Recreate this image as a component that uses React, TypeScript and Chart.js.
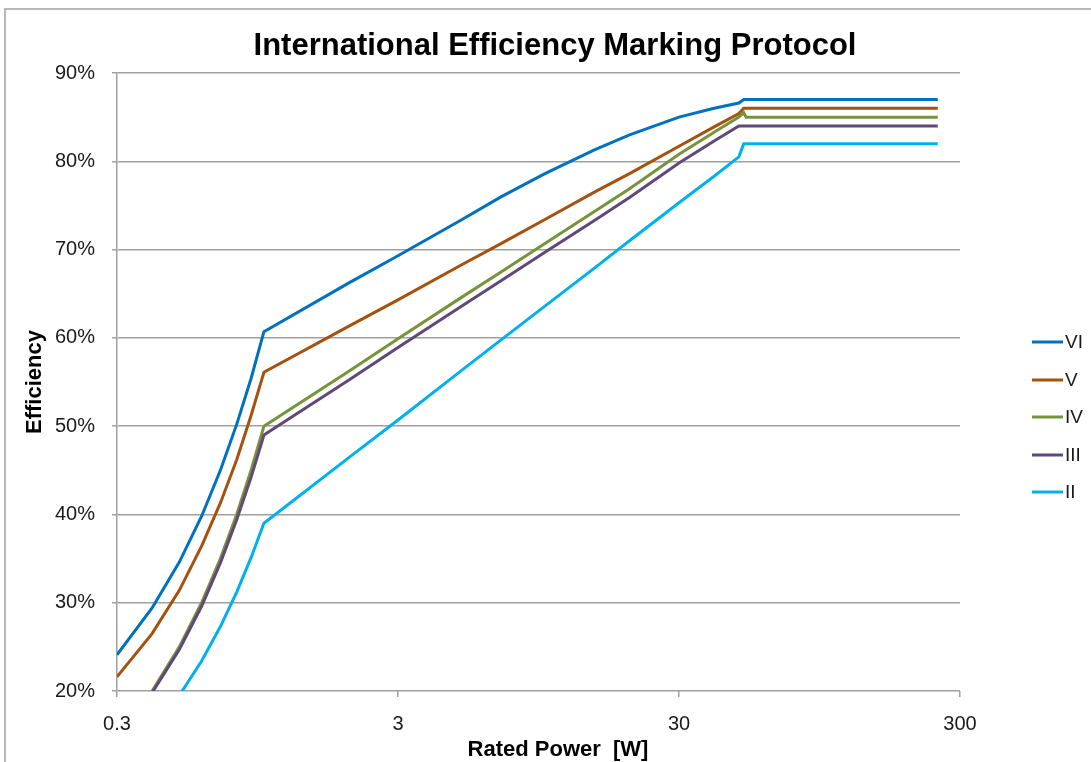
import React, { useEffect, useRef } from "react";
import { Chart, registerables } from "chart.js";

Chart.register(...registerables);

// Rated power [W] sample points (x)
const powerW = [0.3, 0.4, 0.5, 0.6, 0.7, 0.8, 0.9, 1, 2, 3, 5, 7, 10, 15, 20, 30, 40, 49, 51, 52, 250];

// Efficiency [%] per level
const levelVI = [24.1, 29.4, 34.6, 39.8, 45.0, 50.2, 55.4, 60.7, 66.2, 69.3, 73.3, 76.0, 78.6, 81.3, 83.0, 85.0, 86.0, 86.6, 87, 87, 87];
const levelV = [21.6, 26.5, 31.4, 36.4, 41.3, 46.2, 51.2, 56.1, 61.3, 64.3, 68.2, 70.7, 73.4, 76.5, 78.6, 81.7, 83.9, 85.4, 86, 86, 86];
const levelIV = [null, 20, 25, 30, 35, 40, 45, 50, 56.2, 59.9, 64.5, 67.5, 70.7, 74.3, 76.9, 80.8, 83.3, 85.0, 85.5, 85, 85];
const levelIII = [null, 19.8, 24.7, 29.6, 34.5, 39.4, 44.2, 49.0, 55.2, 58.9, 63.5, 66.5, 69.7, 73.3, 75.9, 79.8, 82.3, 84.0, 84, 84, 84];
const levelII = [null, null, 19.5, 23.4, 27.3, 31.2, 35.1, 39.0, 46.4, 50.7, 56.2, 59.8, 63.6, 67.9, 71.0, 75.3, 78.3, 80.5, 82, 82, 82];

const seriesNames = ["VI", "V", "IV", "III", "II"];
const seriesColors = ["#0070C0", "#A5520F", "#77933C", "#5F497A", "#00B0F0"];
const seriesValues = [levelVI, levelV, levelIV, levelIII, levelII];

const xTickValues = [0.3, 3, 30, 300];
const yMin = 20;
const yMax = 90;
const yStep = 10;

const titleText = "International Efficiency Marking Protocol";
const xTitle = "Rated Power  [W]";
const yTitle = "Efficiency";

const FONT = "'Liberation Sans', Arial, sans-serif";

const textPlugin = {
  id: "customTexts",
  afterDraw(chart: any) {
    const ctx = chart.ctx;
    ctx.save();
    ctx.fillStyle = "#000";
    ctx.textAlign = "center";
    ctx.textBaseline = "alphabetic";
    ctx.font = `bold 31px ${FONT}`;
    ctx.fillText(titleText, 555, 55);
    ctx.font = `bold 22px ${FONT}`;
    ctx.fillText(xTitle, 558, 756);
    ctx.restore();
  },
};

const legendPlugin = {
  id: "customLegend",
  afterDraw(chart: any) {
    const ctx = chart.ctx;
    const ys = [342, 380, 417, 455, 492];
    ctx.save();
    chart.data.datasets.forEach((ds: any, i: number) => {
      const y = ys[i];
      ctx.strokeStyle = ds.borderColor;
      ctx.lineWidth = 3;
      ctx.beginPath();
      ctx.moveTo(1032, y);
      ctx.lineTo(1063, y);
      ctx.stroke();
      ctx.fillStyle = "#1a1a1a";
      ctx.font = `19px ${FONT}`;
      ctx.textBaseline = "middle";
      ctx.textAlign = "left";
      ctx.fillText(ds.label, 1065, y + 1);
    });
    ctx.restore();
  },
};

export default function App() {
  const canvasRef = useRef<HTMLCanvasElement | null>(null);

  useEffect(() => {
    if (!canvasRef.current) return;
    const datasets = seriesNames.map((name, i) => ({
      label: name,
      data: powerW.map((p, j) => ({ x: p, y: seriesValues[i][j] })),
      borderColor: seriesColors[i],
      backgroundColor: seriesColors[i],
      borderWidth: 3,
      pointRadius: 0,
      tension: 0,
      fill: false,
      spanGaps: false,
      order: 5 - i,
    }));

    const chart = new Chart(canvasRef.current, {
      type: "line",
      data: { datasets },
      plugins: [textPlugin, legendPlugin],
      options: {
        animation: false,
        responsive: true,
        maintainAspectRatio: false,
        layout: { padding: { left: 10, right: 131, top: 73, bottom: 0 } },
        plugins: {
          legend: { display: false },
          tooltip: { enabled: false },
          title: { display: false },
        },
        scales: {
          x: {
            type: "logarithmic",
            min: 0.3,
            max: 300,
            afterBuildTicks: (scale: any) => {
              scale.ticks = xTickValues.map((v) => ({ value: v }));
            },
            afterFit: (scale: any) => {
              scale.height = 71;
            },
            ticks: {
              color: "#1a1a1a",
              font: { family: FONT, size: 20 },
              padding: 15,
              maxRotation: 0,
              autoSkip: false,
              callback: (v: any) => String(v),
            },
            grid: {
              drawOnChartArea: false,
              drawTicks: true,
              tickLength: 6,
              color: "#a0a0a0",
              lineWidth: 1.5,
            },
            border: { display: false },
            title: { display: false },
          },
          y: {
            type: "linear",
            min: yMin,
            max: yMax,
            afterFit: (scale: any) => {
              scale.width = 107;
            },
            ticks: {
              stepSize: yStep,
              color: "#1a1a1a",
              font: { family: FONT, size: 20 },
              padding: 17,
              callback: (v: any) => v + "%",
            },
            grid: {
              drawTicks: true,
              tickLength: 5,
              color: "#a0a0a0",
              lineWidth: 1.5,
            },
            border: { display: true, color: "#a0a0a0", width: 1.5 },
            title: {
              display: true,
              text: yTitle,
              color: "#000",
              font: { family: FONT, size: 22, weight: "bold" },
              padding: { top: 12, bottom: 0 },
            },
          },
        },
      },
    } as any);

    return () => chart.destroy();
  }, []);

  return (
    <div style={{ position: "absolute", left: 0, top: 0, width: 1091, height: 762, overflow: "hidden", background: "#fff" }}>
      <div
        style={{
          position: "absolute",
          left: 4,
          top: 8,
          width: 2000,
          height: 2000,
          borderLeft: "2px solid #b8b8b8",
          borderTop: "2px solid #b8b8b8",
        }}
      />
      <canvas ref={canvasRef} style={{ position: "absolute", left: 0, top: 0 }} />
    </div>
  );
}
